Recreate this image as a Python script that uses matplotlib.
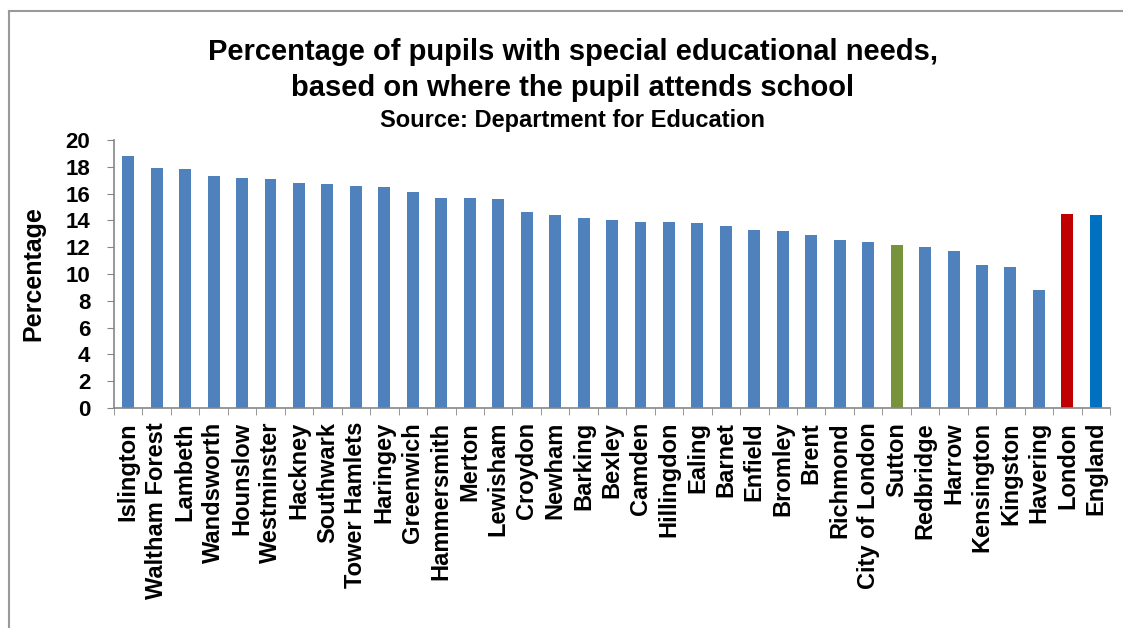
import matplotlib.pyplot as plt
from matplotlib.lines import Line2D
import numpy as np

plt.rcParams['font.family'] = ['Liberation Sans', 'DejaVu Sans']
plt.rcParams['font.weight'] = 'bold'
plt.rcParams['axes.labelweight'] = 'bold'

areas = ['Islington', 'Waltham Forest', 'Lambeth', 'Wandsworth', 'Hounslow',
         'Westminster', 'Hackney', 'Southwark', 'Tower Hamlets', 'Haringey',
         'Greenwich', 'Hammersmith', 'Merton', 'Lewisham', 'Croydon', 'Newham',
         'Barking', 'Bexley', 'Camden', 'Hillingdon', 'Ealing', 'Barnet',
         'Enfield', 'Bromley', 'Brent', 'Richmond', 'City of London', 'Sutton',
         'Redbridge', 'Harrow', 'Kensington', 'Kingston', 'Havering',
         'London', 'England']
sen_pct = [18.8, 17.9, 17.8, 17.3, 17.2,
           17.1, 16.8, 16.7, 16.6, 16.5,
           16.1, 15.7, 15.7, 15.6, 14.6, 14.4,
           14.2, 14.0, 13.9, 13.9, 13.8, 13.6,
           13.3, 13.2, 12.9, 12.5, 12.4, 12.2,
           12.0, 11.7, 10.7, 10.5, 8.8,
           14.5, 14.4]
y_ticks = [0, 2, 4, 6, 8, 10, 12, 14, 16, 18, 20]

highlight = {'Sutton': '#77933C', 'London': '#C00000', 'England': '#0070C0'}
colors = [highlight.get(a, '#4F81BD') for a in areas]

fig = plt.figure(figsize=(11.23, 6.28), dpi=100)
ax = fig.add_axes([0.1015, 0.3503, 0.887, 0.4268])

x = np.arange(len(areas))
ax.bar(x, sen_pct, width=0.42, color=colors)

ax.set_xlim(-0.5, len(areas) - 0.5)
ax.set_ylim(0, 20)
ax.set_yticks(y_ticks)
ax.tick_params(axis='y', labelsize=16, length=5, color='#868686', pad=12)

# labels centred on bars, ticks on category boundaries
ax.set_xticks(x)
ax.set_xticklabels(areas, rotation=90, fontsize=17)
ax.tick_params(axis='x', length=0, pad=10)
ax.set_xticks(np.arange(len(areas) + 1) - 0.5, minor=True)
ax.tick_params(axis='x', which='minor', length=5, color='#868686')

for side in ['top', 'right']:
    ax.spines[side].set_visible(False)
for side in ['left', 'bottom']:
    ax.spines[side].set_color('#868686')
    ax.spines[side].set_linewidth(1.2)

ax.set_ylabel('Percentage', fontsize=18)
ax.yaxis.set_label_coords(-0.069, 0.5)

fig.text(0.51, 0.917, 'Percentage of pupils with special educational needs,',
         ha='center', va='center', fontsize=21)
fig.text(0.51, 0.860, 'based on where the pupil attends school',
         ha='center', va='center', fontsize=21)
fig.text(0.51, 0.808, 'Source: Department for Education',
         ha='center', va='center', fontsize=17)

# outer frame (only left and top edges visible)
fig.add_artist(Line2D([0.008, 0.008], [0, 0.983], color='#999999', lw=1.5))
fig.add_artist(Line2D([0.008, 1.0], [0.983, 0.983], color='#999999', lw=1.5))

fig.savefig('out.png', dpi=100)
